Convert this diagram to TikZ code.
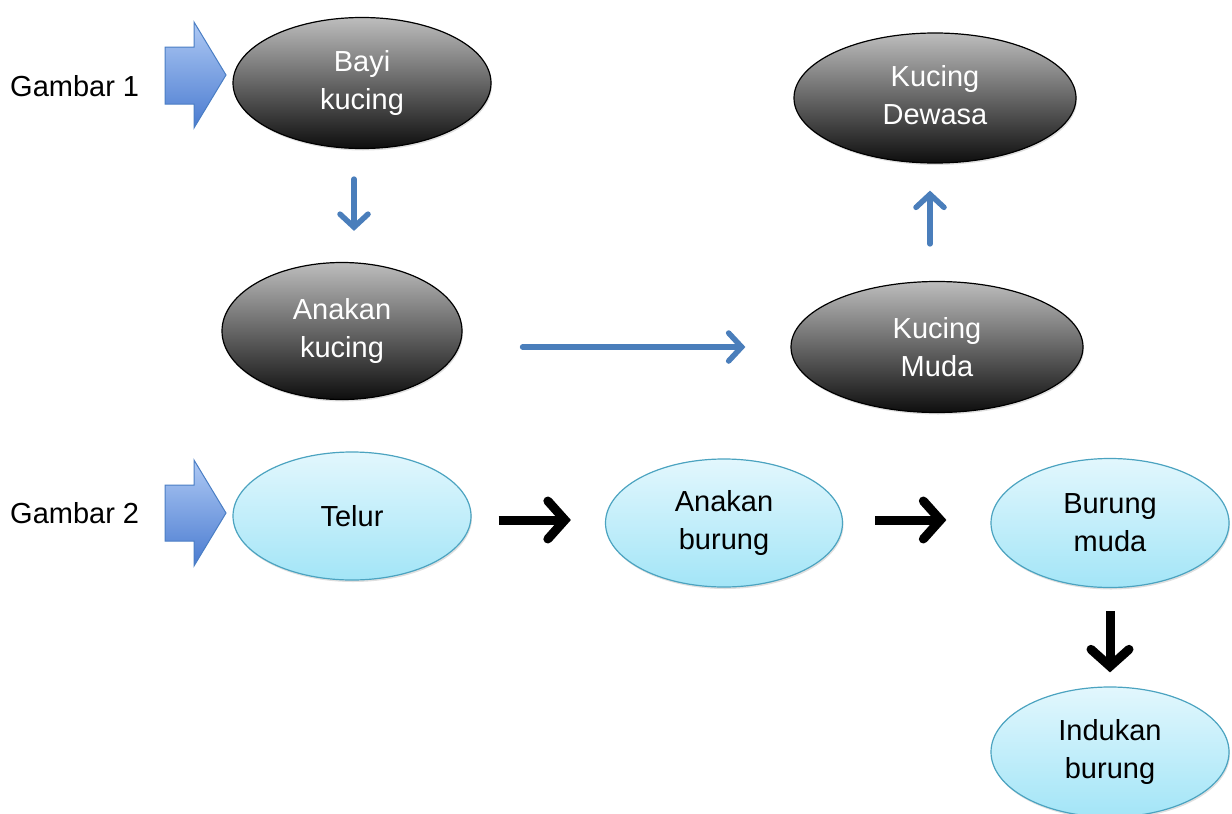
\documentclass[tikz,border=0pt]{standalone}
\usepackage{fontspec}
\setmainfont{Liberation Sans}
\usetikzlibrary{shapes.geometric,arrows.meta,shadows}
\definecolor{catTop}{HTML}{BDBDBD}
\definecolor{catBot}{HTML}{0E0E0E}
\definecolor{birdTop}{HTML}{E2F7FD}
\definecolor{birdBot}{HTML}{A3E5F7}
\definecolor{birdLine}{HTML}{4BA3C0}
\definecolor{flowBlue}{HTML}{4A7EBB}
\definecolor{blkTop}{HTML}{AEC9F4}
\definecolor{blkBot}{HTML}{4A7BD0}
\definecolor{blkLine}{HTML}{4A7EC4}
\begin{document}
\begin{tikzpicture}[x=1pt,y=-1pt,
  txt/.style={font=\fontsize{29}{38}\selectfont, align=center},
  catnode/.style={ellipse, txt, text=white, draw=black, line width=1.2pt,
    top color=catTop, bottom color=catBot, inner sep=0pt,
    drop shadow={opacity=0.25, shadow xshift=1pt, shadow yshift=-2pt}},
  birdnode/.style={ellipse, txt, text=black, draw=birdLine, line width=1.2pt,
    top color=birdTop, bottom color=birdBot, inner sep=0pt,
    drop shadow={opacity=0.25, shadow xshift=1pt, shadow yshift=-2pt}},
  bluearrow/.style={draw=flowBlue, line width=5.5pt, line cap=round,
    -{Straight Barb[length=13pt,width=28pt,line cap=round]}},
  blackarrow/.style={draw=black, line width=9pt, line cap=butt,
    -{Straight Barb[length=17pt,width=38pt,line cap=round]}},
  blockarrow/.style={draw=blkLine, line width=1pt, top color=blkTop, bottom color=blkBot},
  label/.style={txt, anchor=west, inner sep=0pt}
]
\useasboundingbox (0,0) rectangle (1232,814);

% block arrows
\shadedraw[blockarrow] (165,47) -- (194,47) -- (194,22) -- (226,75) -- (194,128) -- (194,104) -- (165,104) -- cycle;
\shadedraw[blockarrow] (165,485) -- (194,485) -- (194,460) -- (226,513) -- (194,566) -- (194,541) -- (165,541) -- cycle;

% labels
\node[label] (g1) at (10,86) {Gambar 1};
\node[label] (g2) at (10,513) {Gambar 2};

% cat nodes
\node[catnode, minimum width=258pt, minimum height=131pt] (bayi) at (362,83) {\raisebox{9pt}{\begin{tabular}{@{}c@{}}Bayi\\kucing\end{tabular}}};
\node[catnode, minimum width=282pt, minimum height=130pt] (dewasa) at (935,98) {\raisebox{18pt}{\begin{tabular}{@{}c@{}}Kucing\\Dewasa\end{tabular}}};
\node[catnode, minimum width=240pt, minimum height=137pt] (anakk) at (342,331) {Anakan\\kucing};
\node[catnode, minimum width=292pt, minimum height=131pt] (muda) at (937,347) {Kucing\\Muda};

% bird nodes
\node[birdnode, minimum width=238pt, minimum height=128pt] (telur) at (352,516) {Telur};
\node[birdnode, minimum width=237pt, minimum height=128pt] (anakb) at (724,523) {Anakan\\burung};
\node[birdnode, minimum width=238pt, minimum height=129pt] (burung) at (1110,523) {Burung\\muda};
\node[birdnode, minimum width=238pt, minimum height=130pt] (induk) at (1110,752) {Indukan\\burung};

% cat connectors
\draw[bluearrow] ([xshift=-8pt,yshift=-30pt]bayi.south) -- ([xshift=12pt,yshift=31pt]anakk.north);
\draw[bluearrow] ([xshift=60pt,yshift=-16pt]anakk.east) -- ([xshift=-45pt]muda.west);
\draw[bluearrow] ([xshift=-7pt,yshift=37pt]muda.north) -- ([xshift=-5pt,yshift=-27pt]dewasa.south);

% bird connectors
\draw[blackarrow] ([xshift=27pt,yshift=-4pt]telur.east) -- ([xshift=-34pt,yshift=3pt]anakb.west);
\draw[blackarrow] ([xshift=32pt,yshift=3pt]anakb.east) -- ([xshift=-44pt,yshift=3pt]burung.west);
\draw[blackarrow] ([yshift=-23pt]burung.south) -- ([yshift=14pt]induk.north);
\end{tikzpicture}
\end{document}
